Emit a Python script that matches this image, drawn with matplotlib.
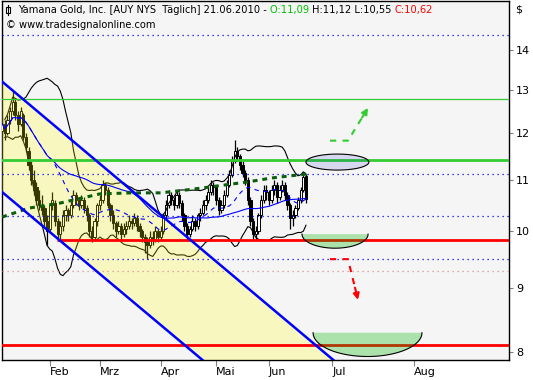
import numpy as np
import pandas as pd
import matplotlib
matplotlib.use("Agg")
import matplotlib.pyplot as plt
from matplotlib.patches import Polygon, Rectangle
from matplotlib.ticker import NullLocator

# Tagesdaten AUY, Index 1 = 05.01.2010 ... 116 = 21.06.2010
opens = [12.05, 12.2, 12.0, 12.3, 12.5, 12.7, 12.4, 12.2, 12.4, 11.9,
         11.6, 11.3, 11.0, 10.85, 10.6, 10.5, 10.45, 10.2, 10.05, 10.5,
         10.55, 10.2, 9.95, 10.1, 10.3, 10.4, 10.3, 10.5, 10.7, 10.6,
         10.5, 10.6, 10.45, 10.3, 10.0, 9.9, 10.2, 10.5, 10.6, 10.9,
         10.8, 10.5, 10.3, 10.15, 10.0, 10.1, 9.95, 10.05, 10.1, 10.2,
         10.15, 10.25, 10.1, 10.0, 9.9, 9.8, 9.75, 9.9, 9.85, 10.0,
         9.9, 10.0, 10.3, 10.5, 10.7, 10.6, 10.5, 10.7, 10.55, 10.3,
         10.1, 9.95, 10.05, 10.2, 10.1, 10.3, 10.35, 10.5, 10.6, 10.75,
         10.9, 10.85, 10.6, 10.4, 10.5, 10.7, 10.9, 11.1, 11.4, 11.6,
         11.5, 11.3, 11.15, 11.0, 10.6, 10.2, 9.95, 10.0, 10.3, 10.6,
         10.8, 10.75, 10.6, 10.8, 10.9, 10.65, 10.8, 10.9, 10.7, 10.5,
         10.25, 10.3, 10.45, 10.6, 10.8, 11.09]
highs = [12.35, 12.3, 12.4, 12.6, 13.0, 12.8, 12.5, 12.6, 12.45, 12.0,
         11.7, 11.4, 11.2, 10.95, 10.8, 10.7, 10.5, 10.3, 10.55, 10.75,
         10.6, 10.25, 10.2, 10.4, 10.5, 10.45, 10.6, 10.8, 10.75, 10.65,
         10.7, 10.65, 10.5, 10.35, 10.1, 10.25, 10.55, 10.7, 11.0, 10.95,
         10.85, 10.55, 10.4, 10.2, 10.2, 10.15, 10.15, 10.2, 10.3, 10.25,
         10.35, 10.3, 10.15, 10.05, 9.95, 9.9, 10.0, 10.0, 10.1, 10.05,
         10.1, 10.35, 10.6, 10.8, 10.75, 10.65, 10.8, 10.75, 10.6, 10.35,
         10.15, 10.1, 10.3, 10.25, 10.35, 10.45, 10.6, 10.7, 10.85, 11.0,
         10.95, 10.9, 10.65, 10.6, 10.8, 11.0, 11.2, 11.5, 11.85, 11.7,
         11.55, 11.4, 11.2, 11.05, 10.65, 10.25, 10.1, 10.35, 10.7, 10.9,
         10.9, 10.8, 10.9, 11.0, 10.95, 10.9, 11.0, 10.95, 10.75, 10.55,
         10.4, 10.5, 10.65, 10.85, 11.1, 11.12]
lows = [11.95, 11.85, 11.95, 12.2, 12.4, 12.3, 12.05, 12.15, 11.85, 11.6,
        11.2, 10.9, 10.7, 10.5, 10.4, 10.3, 10.1, 9.75, 10.0, 10.4,
        10.1, 9.84, 9.85, 10.0, 10.2, 10.2, 10.25, 10.45, 10.5, 10.4,
        10.45, 10.35, 10.2, 9.9, 9.8, 9.85, 10.1, 10.4, 10.55, 10.7,
        10.45, 10.2, 10.05, 9.9, 9.95, 9.85, 9.9, 9.95, 10.05, 10.05,
        10.1, 10.0, 9.9, 9.8, 9.6, 9.5, 9.7, 9.75, 9.8, 9.8,
        9.85, 9.95, 10.25, 10.45, 10.5, 10.4, 10.45, 10.45, 10.2, 10.0,
        9.85, 9.9, 10.0, 10.0, 10.05, 10.2, 10.3, 10.4, 10.55, 10.7,
        10.7, 10.5, 10.3, 10.35, 10.45, 10.65, 10.85, 11.05, 11.35, 11.4,
        11.2, 11.05, 10.9, 10.5, 10.1, 9.85, 9.85, 9.95, 10.25, 10.55,
        10.6, 10.5, 10.55, 10.7, 10.55, 10.6, 10.75, 10.6, 10.4, 10.05,
        10.1, 10.25, 10.4, 10.55, 10.75, 10.55]
closes = [12.2, 12.0, 12.3, 12.5, 12.7, 12.4, 12.2, 12.5, 11.9, 11.7,
          11.3, 11.0, 10.8, 10.6, 10.5, 10.4, 10.2, 10.0, 10.5, 10.6,
          10.2, 9.95, 10.1, 10.3, 10.4, 10.3, 10.5, 10.7, 10.6, 10.5,
          10.6, 10.45, 10.3, 10.0, 9.9, 10.2, 10.5, 10.6, 10.9, 10.8,
          10.5, 10.3, 10.15, 10.0, 10.1, 9.95, 10.05, 10.1, 10.2, 10.15,
          10.25, 10.1, 10.0, 9.9, 9.8, 9.75, 9.9, 9.85, 10.0, 9.9,
          10.0, 10.3, 10.5, 10.7, 10.6, 10.5, 10.7, 10.55, 10.3, 10.1,
          9.95, 10.05, 10.2, 10.1, 10.3, 10.35, 10.5, 10.6, 10.75, 10.9,
          10.85, 10.6, 10.4, 10.5, 10.7, 10.9, 11.1, 11.4, 11.6, 11.5,
          11.3, 11.15, 11.0, 10.6, 10.2, 9.95, 10.0, 10.3, 10.6, 10.8,
          10.75, 10.6, 10.8, 10.9, 10.65, 10.8, 10.9, 10.7, 10.5, 10.25,
          10.3, 10.45, 10.6, 10.8, 11.05, 10.62]

# lange Durchschnittslinie (gruen gepunktet)
ma_long_idx = [1, 11, 23, 38, 50, 61, 71, 77, 94, 103, 116]
ma_long_val = [10.27, 10.44, 10.54, 10.72, 10.74, 10.74, 10.80, 10.84, 10.96, 11.04, 11.12]

# Trendkanal (zwei Punkte je Linie)
chan_top_idx = [0.0, 128.9]
chan_top_val = [13.25, 7.80]
chan_bot_idx = [0.0, 79.7]
chan_bot_val = [10.80, 7.79]

month_pos = [19, 38, 61, 82, 102, 126, 157]
month_lab = ["Feb", "Mrz", "Apr", "Mai", "Jun", "Jul", "Aug"]
price_ticks = [8, 9, 10, 11, 12, 13, 14]

blue_dotted = [14.39, 11.12, 10.29, 9.50]
pink_dotted = [9.29]
green_thin = 12.78
green_thick = 11.42
red_top = 9.84
red_top_start = 21.8
red_bottom = 8.10

# Zeichnungen rechts
up_arrow_idx = [125.1, 131.9, 139.5]
up_arrow_val = [11.83, 11.83, 12.57]
dn_arrow_idx = [125.1, 131.9, 135.7]
dn_arrow_val = [9.50, 9.50, 8.81]
oval_c = (127.9, 11.37, 11.9, 0.0148)
bowl_small = (127.0, 9.95, 12.5, 0.026)
bowl_big = (139.3, 8.29, 20.6, 0.044)

W, H = 533, 380
fig = plt.figure(figsize=(W / 100, H / 100), dpi=100)
fig.patch.set_facecolor("white")
ax = fig.add_axes([2 / W, 20 / H, 507 / W, 359 / H])
ax.set_facecolor("#f5f5f5")
ax.set_yscale("log")
ax.set_xlim(0.946, 192.85)
ax.set_ylim(7.882, 15.32)

x = np.arange(1, len(closes) + 1)
o = np.array(opens)
c = np.array(closes)
h = np.array(highs)
l = np.array(lows)
up = c >= o

# Kerzen
ax.vlines(x, l, h, color="black", lw=0.9, zorder=2)
ax.bar(x[up], (c - o)[up], bottom=o[up], width=0.85, color="white",
       edgecolor="black", lw=0.7, zorder=3)
ax.bar(x[~up], (o - c)[~up], bottom=c[~up], width=0.85, color="black",
       edgecolor="black", lw=0.7, zorder=3)

# Bollinger
s = pd.Series(closes, index=x)
mid = s.rolling(20, min_periods=2).mean()
sd = s.rolling(20, min_periods=2).std(ddof=0)
ax.plot(x, mid + 2 * sd, color="black", lw=0.8, zorder=3.5)
ax.plot(x, mid - 2 * sd, color="black", lw=0.8, zorder=3.5)

# gelber Kanal
poly = Polygon([(chan_top_idx[0], chan_top_val[0]), (chan_top_idx[1], chan_top_val[1]),
                (chan_bot_idx[1], chan_bot_val[1]), (chan_bot_idx[0], chan_bot_val[0])],
               closed=True, facecolor=(1, 1, 0, 0.22), edgecolor="none", zorder=4)
ax.add_patch(poly)

# Durchschnitte
ma50 = s.rolling(50, min_periods=1).mean()
ax.plot(x, ma50, color="#0000ff", lw=0.8, zorder=5)
ax.plot(x, mid, color="#0000ff", lw=0.8, ls=(0, (4, 4)), zorder=5)
ax.plot(ma_long_idx, ma_long_val, color="#0b5e0b", lw=2.2, ls=(0, (1.6, 1.6)), zorder=5)

# Linien
for lv in blue_dotted:
    ax.axhline(lv, color="#0000ff", lw=0.9, ls=(0, (1, 3)), zorder=4.5)
for lv in pink_dotted:
    ax.axhline(lv, color="#d99090", lw=0.9, ls=(0, (1, 3)), zorder=4.5)
ax.axhline(green_thin, color="#33cc33", lw=0.9, zorder=5)
ax.axhline(green_thick, color="#33cc33", lw=2.0, zorder=5)
ax.hlines(red_top, red_top_start, 192.85, color="#ff0000", lw=2.0, zorder=5)
ax.axhline(red_bottom, color="#ff0000", lw=2.0, zorder=5)

ax.plot(chan_top_idx, chan_top_val, color="#0000ff", lw=1.8, zorder=6)
ax.plot(chan_bot_idx, chan_bot_val, color="#0000ff", lw=1.8, zorder=6)


def oval(ic, pc, hw, hh, lower=False):
    t = np.linspace(np.pi, 2 * np.pi, 80) if lower else np.linspace(0, 2 * np.pi, 160)
    return ic + hw * np.cos(t), pc * np.exp(hh * np.sin(t))


ex, ey = oval(*oval_c)
ax.fill(ex, ey, facecolor=(0, 0, 0.8, 0.12), edgecolor="black", lw=0.8, zorder=7)
for b in (bowl_small, bowl_big):
    bx, by = oval(*b, lower=True)
    ax.fill(bx, by, facecolor=(0, 0.7, 0, 0.3), edgecolor="none", zorder=7)
    ax.plot(bx, by, color="black", lw=0.8, zorder=7.5)


def dashed_arrow(xs, ys, col):
    f = 0.7
    mx = xs[1] + f * (xs[2] - xs[1])
    my = ys[1] * (ys[2] / ys[1]) ** f
    ax.plot([xs[0], xs[1], mx], [ys[0], ys[1], my], color=col, lw=1.5,
            ls=(0, (3, 3)), zorder=8)
    ax.annotate("", xy=(xs[2], ys[2]), xytext=(mx, my),
                arrowprops=dict(arrowstyle="-|>", color=col, lw=1.5,
                                mutation_scale=9, shrinkA=0, shrinkB=0),
                zorder=8)


dashed_arrow(up_arrow_idx, up_arrow_val, "#33cc33")
dashed_arrow(dn_arrow_idx, dn_arrow_val, "#ff0000")

# Achsen
ax.yaxis.tick_right()
ax.set_yticks(price_ticks)
ax.set_yticklabels([str(p) for p in price_ticks])
ax.yaxis.set_minor_locator(NullLocator())
ax.tick_params(axis="y", direction="out", length=3, color="#808080", pad=2,
               labelsize=8)
ax.set_xticks(month_pos)
ax.set_xticklabels(month_lab)
for t in ax.get_xticklabels():
    t.set_horizontalalignment("left")
ax.tick_params(axis="x", direction="out", length=4, color="#808080", pad=1,
               labelsize=8)
for sp in ax.spines.values():
    sp.set_color("black")
    sp.set_linewidth(1.0)

fig.text(515 / W, 1 - 10 / H, "$", fontsize=8, va="center", ha="left")

# Titel
fs = 7.1
t1 = fig.text(18 / W, 1 - 15 / H, "Yamana Gold, Inc. [AUY NYS  Täglich] 21.06.2010 - ",
              fontsize=fs, color="black", va="bottom")
t2 = fig.text(0, 0, "O:11,09 ", fontsize=fs, color="#00c000")
t3 = fig.text(0, 0, "H:11,12 L:10,55 ", fontsize=fs, color="black")
t4 = fig.text(0, 0, "C:10,62", fontsize=fs, color="#ff0000")
fig.canvas.draw()
r = fig.canvas.get_renderer()
prev = t1
for t in (t2, t3, t4):
    bb = prev.get_window_extent(r)
    t.set_position((bb.x1 / W, bb.y0 / H))
    t.set_va("bottom")
    prev = t
fig.text(6 / W, 1 - 30 / H, "© www.tradesignalonline.com", fontsize=fs,
         color="black", va="bottom")

# Kerzensymbol
fig.add_artist(plt.Line2D([8 / W, 8 / W], [1 - 5 / H, 1 - 15 / H], color="black",
                          lw=0.8, transform=fig.transFigure))
fig.add_artist(Rectangle((6 / W, 1 - 13 / H), 4 / W, 6 / H, facecolor="white",
                         edgecolor="black", lw=0.8, transform=fig.transFigure))

fig.savefig("out.png", dpi=100)
